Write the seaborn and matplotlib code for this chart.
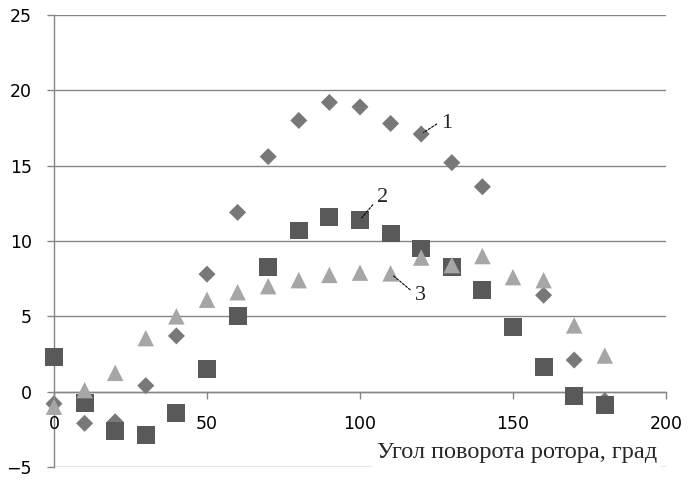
import numpy as np
import pandas as pd
import seaborn as sns
import matplotlib.pyplot as plt

# angle of rotor rotation, deg
angle = [0, 10, 20, 30, 40, 50, 60, 70, 80, 90, 100, 110, 120, 130, 140, 150, 160, 170, 180]

# series 1 (diamonds), 2 (squares), 3 (triangles)
s1 = [-0.8, -2.1, -2.0, 0.4, 3.7, 7.8, 11.9, 15.6, 18.0, 19.2, 18.9, 17.8, 17.1, 15.2, 13.6, np.nan, 6.4, 2.1, -0.6]
s2 = [2.3, -0.75, -2.6, -2.9, -1.4, 1.5, 5.0, 8.3, 10.7, 11.6, 11.4, 10.5, 9.5, 8.3, 6.75, 4.3, 1.65, -0.3, -0.9]
s3 = [-1.0, 0.1, 1.25, 3.55, 5.0, 6.1, 6.6, 7.0, 7.4, 7.75, 7.9, 7.85, 8.9, 8.4, 9.0, 7.6, 7.4, 4.4, 2.4]

xticks = [0, 50, 100, 150, 200]
yticks = [-5, 0, 5, 10, 15, 20, 25]
xlabel = "Угол поворота ротора, град"

df = pd.DataFrame({"angle": angle, "s1": s1, "s2": s2, "s3": s3})

sns.set_style("white")
plt.rcParams['font.family'] = ['DejaVu Sans']

fig = plt.figure(figsize=(6.91, 4.82), dpi=100)
ax = fig.add_axes([54 / 691, 1 - 467 / 482, 612 / 691, 452 / 482])

grid_col = "#868686"

sns.scatterplot(data=df, x="angle", y="s1", marker="D", s=75, color="#787878",
                edgecolor="none", ax=ax, zorder=3, clip_on=False)
sns.scatterplot(data=df, x="angle", y="s2", marker="s", s=165, color="#595959",
                edgecolor="none", ax=ax, zorder=4, clip_on=False)
sns.scatterplot(data=df, x="angle", y="s3", marker="^", s=140, color="#a6a6a6",
                edgecolor="none", ax=ax, zorder=5, clip_on=False)

ax.set_xlim(0, 200)
ax.set_ylim(-5, 25)
ax.set_xticks(xticks)
ax.set_yticks(yticks)
ax.set_xlabel("")
ax.set_ylabel("")

for side in ["top", "right"]:
    ax.spines[side].set_visible(False)
ax.spines["bottom"].set_position(("data", 0))
for side in ["bottom", "left"]:
    ax.spines[side].set_color(grid_col)
    ax.spines[side].set_linewidth(1.0)

ax.grid(axis="y", color=grid_col, linewidth=1.0)
ax.grid(axis="x", visible=False)
ax.set_axisbelow(True)
ax.tick_params(axis="both", direction="out", length=5, width=1, color=grid_col,
               labelsize=12.5, labelcolor="black", pad=11)
ax.tick_params(axis="x", bottom=True, pad=12)
ax.tick_params(axis="y", left=True)
# x tick labels drawn over the markers, as in the original
ax.xaxis.set_zorder(7)

# x-axis title sitting on the -5 line, white box hides the line under it
ax.text(0.756, 0.033, xlabel, transform=ax.transAxes, ha="center", va="center",
        fontsize=17.5, family="Liberation Serif", zorder=6,
        bbox=dict(facecolor="white", edgecolor="none", pad=3))

# series labels with dashed leaders
lead = dict(arrowstyle="-", linestyle=(0, (2, 1.5)), lw=0.8, color="black",
            shrinkA=1, shrinkB=2)
ax.annotate("1", xy=(angle[12], s1[12]), xytext=(20, 11), textcoords="offset pixels",
            ha="left", va="center", fontsize=16, family="Liberation Serif",
            arrowprops=dict(lead, relpos=(0, 0.6)), zorder=6)
ax.annotate("2", xy=(angle[10], s2[10]), xytext=(17, 22), textcoords="offset pixels",
            ha="left", va="center", fontsize=16, family="Liberation Serif",
            arrowprops=dict(lead, relpos=(0, 0.4)), zorder=6)
ax.annotate("3", xy=(angle[11], s3[11]), xytext=(24, -22), textcoords="offset pixels",
            ha="left", va="center", fontsize=16, family="Liberation Serif",
            arrowprops=dict(lead, relpos=(0, 0.6)), zorder=6)

fig.savefig("out.png", dpi=100)
